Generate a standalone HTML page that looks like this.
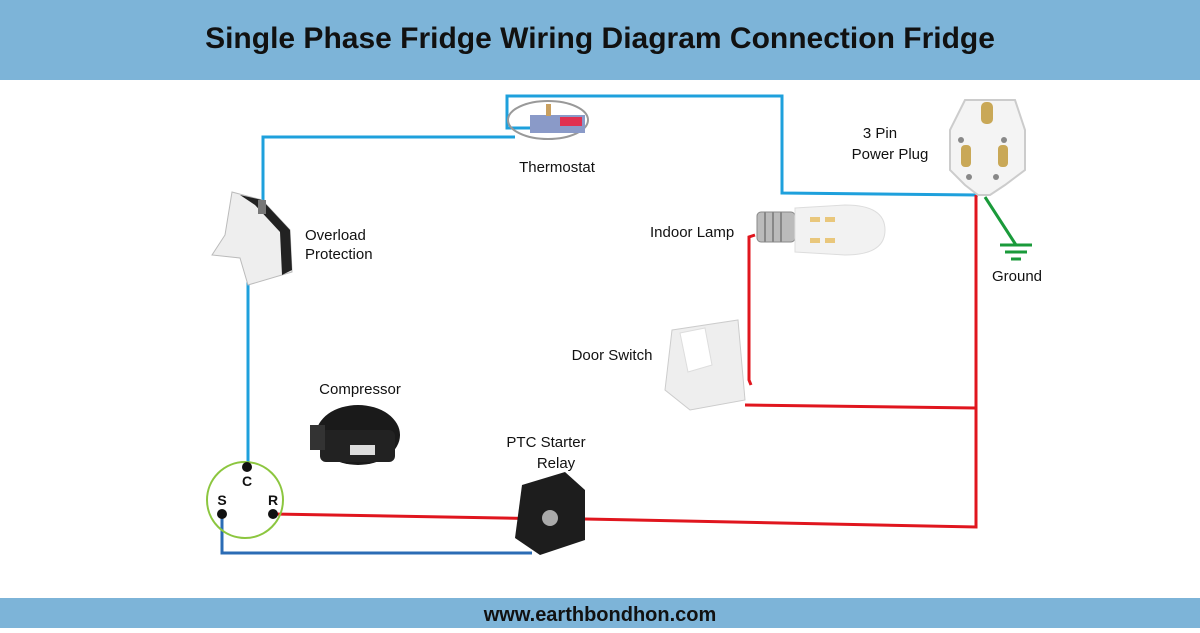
<!DOCTYPE html>
<html><head><meta charset="utf-8"><style>
body{margin:0;width:1200px;height:628px;overflow:hidden;background:#fff;font-family:"Liberation Sans",sans-serif}
</style></head><body>
<svg width="1200" height="628" xmlns="http://www.w3.org/2000/svg" font-family="Liberation Sans, sans-serif">
<rect x="0" y="0" width="1200" height="80" fill="#7db4d8"/>
<text x="600" y="48" text-anchor="middle" font-size="30" font-weight="bold" fill="#111">Single Phase Fridge Wiring Diagram Connection Fridge</text>
<rect x="0" y="598" width="1200" height="30" fill="#7db4d8"/>
<text x="600" y="621" text-anchor="middle" font-size="20" font-weight="bold" fill="#111">www.earthbondhon.com</text>

<!-- blue wires -->
<g fill="none" stroke="#1ea0dc" stroke-width="3">
<polyline points="530,128 507,128 507,96 782,96 782,193 978,195"/>
<polyline points="515,137 263,137 263,200"/>
<polyline points="248,230 248,465"/>
</g>
<polyline points="222,514 222,553 532,553" fill="none" stroke="#2b6cb5" stroke-width="3"/>
<!-- red wires -->
<g fill="none" stroke="#e0161e" stroke-width="3">
<polyline points="273,514 555,519"/>
<polyline points="585,519 976,527 976,195"/>
<polyline points="745,405 976,408"/>
<polyline points="751,385 749,380 749,237 755,235"/>
</g>
<!-- green ground -->
<g stroke="#1a9a3a" stroke-width="3" fill="none">
<line x1="985" y1="197" x2="1016" y2="245"/>
<line x1="1000" y1="245" x2="1032" y2="245"/>
<line x1="1005" y1="252" x2="1027" y2="252"/>
<line x1="1011" y1="259" x2="1021" y2="259"/>
</g>

<!-- compressor terminal circle -->
<circle cx="245" cy="500" r="38" fill="none" stroke="#8cc63f" stroke-width="2"/>
<circle cx="247" cy="467" r="5" fill="#111"/>
<circle cx="222" cy="514" r="5" fill="#111"/>
<circle cx="273" cy="514" r="5" fill="#111"/>
<g font-size="14" font-weight="bold" fill="#111" text-anchor="middle">
<text x="247" y="486">C</text><text x="222" y="505">S</text><text x="273" y="505">R</text>
</g>

<!-- thermostat -->
<ellipse cx="548" cy="120" rx="40" ry="19" fill="none" stroke="#999" stroke-width="2"/>
<rect x="530" y="115" width="55" height="18" fill="#8a9ac8"/>
<rect x="560" y="117" width="22" height="9" fill="#e03050"/>
<rect x="546" y="104" width="5" height="12" fill="#c9a060"/>

<!-- overload -->
<polygon points="232,192 262,200 290,230 292,272 248,285 240,258 212,255 225,235" fill="#eee" stroke="#bbb"/>
<polygon points="240,195 262,200 290,230 292,270 282,275 280,232 255,205" fill="#222"/>
<rect x="258" y="200" width="8" height="14" fill="#777"/>

<!-- plug -->
<path d="M965,100 L1015,100 L1025,130 L1025,170 L1005,185 L990,195 L978,195 L965,185 L950,170 L950,130 Z" fill="#f4f4f4" stroke="#ccc" stroke-width="2"/>
<rect x="981" y="102" width="12" height="22" rx="5" fill="#c9a857"/>
<rect x="961" y="145" width="10" height="22" rx="4" fill="#c9a857"/>
<rect x="998" y="145" width="10" height="22" rx="4" fill="#c9a857"/>
<circle cx="961" cy="140" r="3" fill="#888"/><circle cx="1004" cy="140" r="3" fill="#888"/>
<circle cx="969" cy="177" r="3" fill="#888"/><circle cx="996" cy="177" r="3" fill="#888"/>

<!-- lamp -->
<rect x="757" y="212" width="38" height="30" rx="4" fill="#bbb" stroke="#888"/>
<g stroke="#888" stroke-width="2"><line x1="765" y1="212" x2="765" y2="242"/><line x1="773" y1="212" x2="773" y2="242"/><line x1="781" y1="212" x2="781" y2="242"/></g>
<path d="M795,208 L845,205 Q885,205 885,230 Q885,255 845,255 L795,252 Z" fill="#f2f2f2" stroke="#ddd"/>
<g fill="#e9c77c"><rect x="810" y="217" width="10" height="5"/><rect x="825" y="217" width="10" height="5"/><rect x="810" y="238" width="10" height="5"/><rect x="825" y="238" width="10" height="5"/></g>

<!-- door switch -->
<polygon points="672,330 738,320 745,400 690,410 665,390" fill="#eee" stroke="#ccc"/>
<polygon points="680,333 705,328 712,365 688,372" fill="#fff" stroke="#ddd"/>

<!-- compressor -->
<ellipse cx="358" cy="435" rx="42" ry="30" fill="#1a1a1a"/>
<rect x="320" y="430" width="75" height="32" rx="6" fill="#222"/>
<rect x="310" y="425" width="15" height="25" fill="#333"/>
<rect x="350" y="445" width="25" height="10" fill="#ddd"/>

<!-- PTC relay -->
<polygon points="522,485 565,472 585,490 585,540 540,555 515,538" fill="#1d1d1d"/>
<circle cx="550" cy="518" r="8" fill="#aaa"/>

<!-- labels -->
<g font-size="15" fill="#111">
<text x="557" y="172" text-anchor="middle">Thermostat</text>
<text x="305" y="240">Overload</text>
<text x="305" y="259">Protection</text>
<text x="650" y="237">Indoor Lamp</text>
<text x="880" y="138" text-anchor="middle">3 Pin</text>
<text x="890" y="159" text-anchor="middle">Power Plug</text>
<text x="1017" y="281" text-anchor="middle">Ground</text>
<text x="612" y="360" text-anchor="middle">Door Switch</text>
<text x="360" y="394" text-anchor="middle">Compressor</text>
<text x="546" y="447" text-anchor="middle">PTC Starter</text>
<text x="556" y="468" text-anchor="middle">Relay</text>
</g>
</svg>
</body></html>
